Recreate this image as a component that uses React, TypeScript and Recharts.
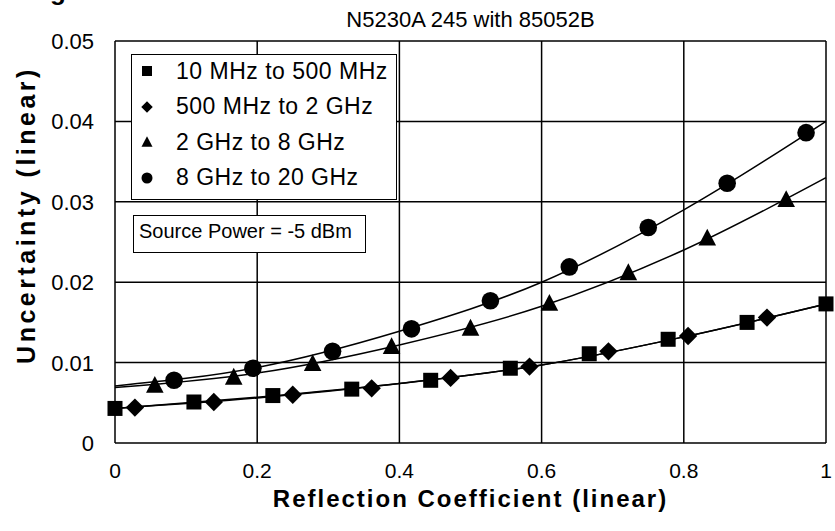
import {
  CartesianGrid,
  ComposedChart,
  Line,
  Scatter,
  XAxis,
  YAxis,
} from 'recharts'

// measured points (x = reflection coefficient, y = uncertainty)
const squareX = [0, 0.111, 0.222, 0.333, 0.444, 0.556, 0.667, 0.778, 0.889, 1]
const squareY = [0.0043, 0.0051, 0.0059, 0.0067, 0.0078, 0.0093, 0.0111, 0.0129, 0.015, 0.0173]
const diamondX = [0.028, 0.139, 0.25, 0.361, 0.472, 0.583, 0.694, 0.806, 0.917]
const diamondY = [0.0044, 0.0051, 0.006, 0.0068, 0.0081, 0.0095, 0.0114, 0.0133, 0.0156]
const triangleX = [0.056, 0.167, 0.278, 0.389, 0.5, 0.611, 0.722, 0.833, 0.944]
const triangleY = [0.0072, 0.0082, 0.0099, 0.012, 0.0143, 0.0174, 0.0212, 0.0255, 0.0303]
const circleX = [0.083, 0.194, 0.306, 0.417, 0.528, 0.639, 0.75, 0.861, 0.972]
const circleY = [0.0078, 0.0093, 0.0114, 0.0142, 0.0177, 0.0219, 0.0268, 0.0323, 0.0386]

// trend curves at the x grid lines
const trendX = [0, 0.2, 0.4, 0.6, 0.8, 1]
const squareTrend = [0.0043, 0.0057, 0.0074, 0.0097, 0.0132, 0.0173]
const diamondTrend = [0.0043, 0.0056, 0.0074, 0.0097, 0.0132, 0.0173]
const triangleTrend = [0.0069, 0.0087, 0.0122, 0.017, 0.024, 0.033]
const circleTrend = [0.0071, 0.0094, 0.0139, 0.02, 0.029, 0.04]

const xTicks = [0, 0.2, 0.4, 0.6, 0.8, 1]
const yTicks = [0, 0.01, 0.02, 0.03, 0.04, 0.05]

const legendLabels = ['10 MHz to 500 MHz', '500 MHz to 2 GHz', '2 GHz to 8 GHz', '8 GHz to 20 GHz']

const zip = (xs: number[], ys: number[]) => xs.map((x, i) => ({ x, y: ys[i] }))

const FONT = '"Liberation Sans", Arial, sans-serif'

type Kind = 'square' | 'diamond' | 'triangle' | 'circle'

function Marker({ kind, cx, cy, s }: { kind: Kind; cx: number; cy: number; s: number }) {
  const h = s / 2
  if (kind === 'square') return <rect x={cx - h} y={cy - h} width={s} height={s} fill="#000" />
  if (kind === 'diamond')
    return <polygon points={`${cx},${cy - h * 1.15} ${cx + h * 1.15},${cy} ${cx},${cy + h * 1.15} ${cx - h * 1.15},${cy}`} fill="#000" />
  if (kind === 'triangle')
    return <polygon points={`${cx},${cy - h * 1.15} ${cx + h * 1.1},${cy + h * 0.95} ${cx - h * 1.1},${cy + h * 0.95}`} fill="#000" />
  return <circle cx={cx} cy={cy} r={h * 1.1} fill="#000" />
}

const shapeOf = (kind: Kind) => (p: any) => <Marker kind={kind} cx={p.cx} cy={p.cy} s={kind === 'square' ? 15 : 16} />

const XTick = (p: any) => (
  <text x={p.x} y={p.y + 35} textAnchor="middle" fontFamily={FONT} fontSize={21} fill="#000">
    {p.payload.value === 0 || p.payload.value === 1 ? String(p.payload.value) : p.payload.value.toFixed(1)}
  </text>
)

const YTick = (p: any) => (
  <text x={p.x - 21} y={p.y + 8} textAnchor="end" fontFamily={FONT} fontSize={22} fill="#000">
    {p.payload.value === 0 ? '0' : p.payload.value.toFixed(2)}
  </text>
)

const series: { kind: Kind; xs: number[]; ys: number[]; trend: number[] }[] = [
  { kind: 'square', xs: squareX, ys: squareY, trend: squareTrend },
  { kind: 'diamond', xs: diamondX, ys: diamondY, trend: diamondTrend },
  { kind: 'triangle', xs: triangleX, ys: triangleY, trend: triangleTrend },
  { kind: 'circle', xs: circleX, ys: circleY, trend: circleTrend },
]

export default function App() {
  return (
    <div style={{ position: 'relative', width: 835, height: 531, background: '#fff', overflow: 'hidden', fontFamily: FONT }}>
      <style>{'body{margin:0}'}</style>
      <ComposedChart width={835} height={531} margin={{ top: 41, right: 9, bottom: 0, left: 0 }}>
        <CartesianGrid stroke="#000" strokeWidth={1.5} />
        <XAxis dataKey="x" type="number" domain={[0, 1]} ticks={xTicks} height={88}
          tick={XTick} tickLine={false} axisLine={false} tickSize={0} tickMargin={0} />
        <YAxis type="number" domain={[0, 0.05]} ticks={yTicks} width={115}
          tick={YTick} tickLine={false} axisLine={false} tickSize={0} tickMargin={0} />
        {series.map((s) => (
          <Line key={`t-${s.kind}`} data={zip(trendX, s.trend)} dataKey="y" type="monotone"
            stroke="#000" strokeWidth={1.5} dot={false} activeDot={false} isAnimationActive={false} />
        ))}
        {series.map((s) => (
          <Scatter key={`p-${s.kind}`} data={zip(s.xs, s.ys)} dataKey="y" shape={shapeOf(s.kind)}
            isAnimationActive={false} />
        ))}
      </ComposedChart>

      <div style={{ position: 'absolute', left: 10, top: -24, fontSize: 26, fontWeight: 'bold', letterSpacing: 2 }}>
        Magnitude
      </div>
      <div style={{ position: 'absolute', left: 115, width: 711, top: 7, textAlign: 'center', fontSize: 22 }}>
        N5230A 245 with 85052B
      </div>
      <div style={{ position: 'absolute', left: 115, width: 711, top: 486, textAlign: 'center', fontSize: 24,
        fontWeight: 'bold', letterSpacing: 2, lineHeight: '26px' }}>
        Reflection Coefficient (linear)
      </div>
      <div style={{ position: 'absolute', left: 26, top: 215, width: 0, height: 0 }}>
        <div style={{ position: 'absolute', transform: 'translate(-50%, -50%) rotate(-90deg)', whiteSpace: 'nowrap',
          fontSize: 25, fontWeight: 'bold', letterSpacing: 3.5 }}>
          Uncertainty (linear)
        </div>
      </div>

      <div style={{ position: 'absolute', left: 131, top: 54, width: 266, height: 146, border: '1.5px solid #000',
        background: '#fff', boxSizing: 'border-box' }}>
        {legendLabels.map((label, i) => (
          <div key={label} style={{ position: 'absolute', left: 0, top: 16 + i * 35.5 - 14, height: 28, display: 'flex',
            alignItems: 'center' }}>
            <svg width={30} height={28}>
              <Marker kind={series[i].kind} cx={15} cy={14} s={10} />
            </svg>
            <span style={{ marginLeft: 14, fontSize: 23, letterSpacing: 0.5, whiteSpace: 'nowrap' }}>{label}</span>
          </div>
        ))}
      </div>

      <div style={{ position: 'absolute', left: 133, top: 215, width: 233, height: 38, border: '1.5px solid #000',
        background: '#fff', boxSizing: 'border-box', fontSize: 20, paddingLeft: 5, lineHeight: '30px' }}>
        Source Power = -5 dBm
      </div>
    </div>
  )
}
